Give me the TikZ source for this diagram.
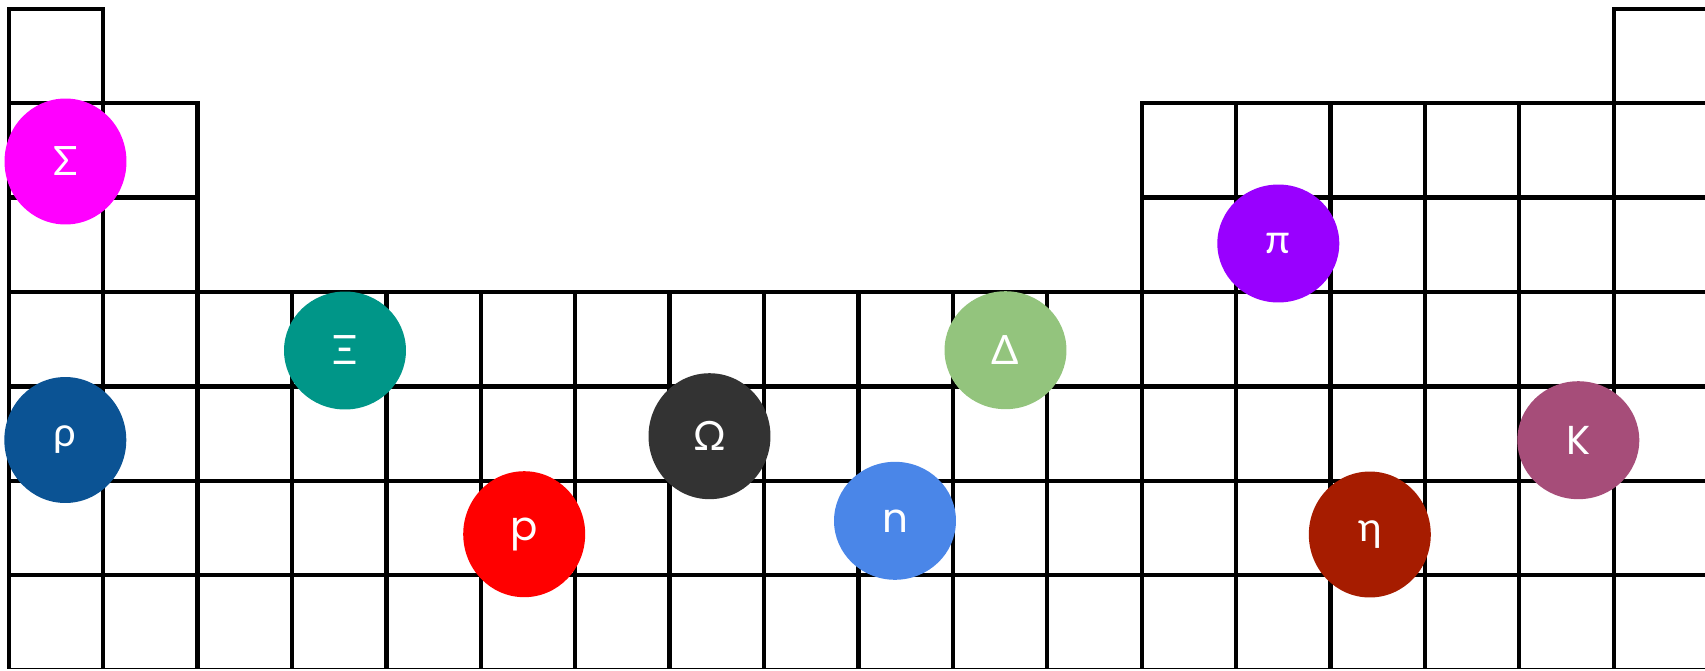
\documentclass[tikz,border=0pt]{standalone}
\usepackage{fontspec}
\setmainfont{Lato}
\newfontfamily\latinfont{Poppins}
\usetikzlibrary{shapes.geometric}
\definecolor{cSigma}{HTML}{FF00FF}
\definecolor{cXi}{HTML}{009688}
\definecolor{cRho}{HTML}{0B5394}
\definecolor{cP}{HTML}{FF0000}
\definecolor{cOmega}{HTML}{333333}
\definecolor{cN}{HTML}{4A86E8}
\definecolor{cDelta}{HTML}{93C47D}
\definecolor{cPi}{HTML}{9900FF}
\definecolor{cEta}{HTML}{A61C00}
\definecolor{cK}{HTML}{A64D79}
\tikzset{
  cell/.style={draw=black,line width=2.4pt},
  ball/.style={ellipse,inner sep=0pt,minimum width=2.44cm,text=white,
    font=\fontsize{23}{23}\selectfont},
  tall/.style={minimum height=2.52cm},
  short/.style={minimum height=2.36cm}
}
\begin{document}
\begin{tikzpicture}[x=0.02cm,y=-0.02cm]
\useasboundingbox (0,0) rectangle (1705,670);
\clip (0,0) rectangle (1705,668.5);
\def\cs{94.4}
\def\ox{8.8}
\foreach \c in {1,18}
  \draw[cell] ({\ox+(\c-1)*\cs},{\ox}) rectangle ++(\cs,\cs);
\foreach \r in {2,3}
  \foreach \c in {1,2,13,14,15,16,17,18}
    \draw[cell] ({\ox+(\c-1)*\cs},{\ox+(\r-1)*\cs}) rectangle ++(\cs,\cs);
\foreach \r in {4,...,7}
  \foreach \c in {1,...,18}
    \draw[cell] ({\ox+(\c-1)*\cs},{\ox+(\r-1)*\cs}) rectangle ++(\cs,\cs);

\node[ball,tall,fill=cSigma] (sigma) at (65.5,161.5) {Σ};
\node[ball,short,fill=cXi] (xi) at (345,350.5) {Ξ};
\node[ball,tall,fill=cRho] (rho) at (65.3,440) {ρ};
\node[ball,tall,fill=cP] (p) at (524.2,534.2) {\latinfont p};
\node[ball,tall,fill=cOmega] (omega) at (709.5,436.2) {Ω};
\node[ball,short,fill=cN] (n) at (895,520.8) {\latinfont n};
\node[ball,short,fill=cDelta] (delta) at (1005.5,350.2) {Δ};
\node[ball,short,fill=cPi] (pi) at (1278.3,243.5) {π};
\node[ball,tall,fill=cEta] (eta) at (1369.8,534.5) {η};
\node[ball,short,fill=cK] (k) at (1578.3,440.2) {\latinfont K};
\end{tikzpicture}
\end{document}
